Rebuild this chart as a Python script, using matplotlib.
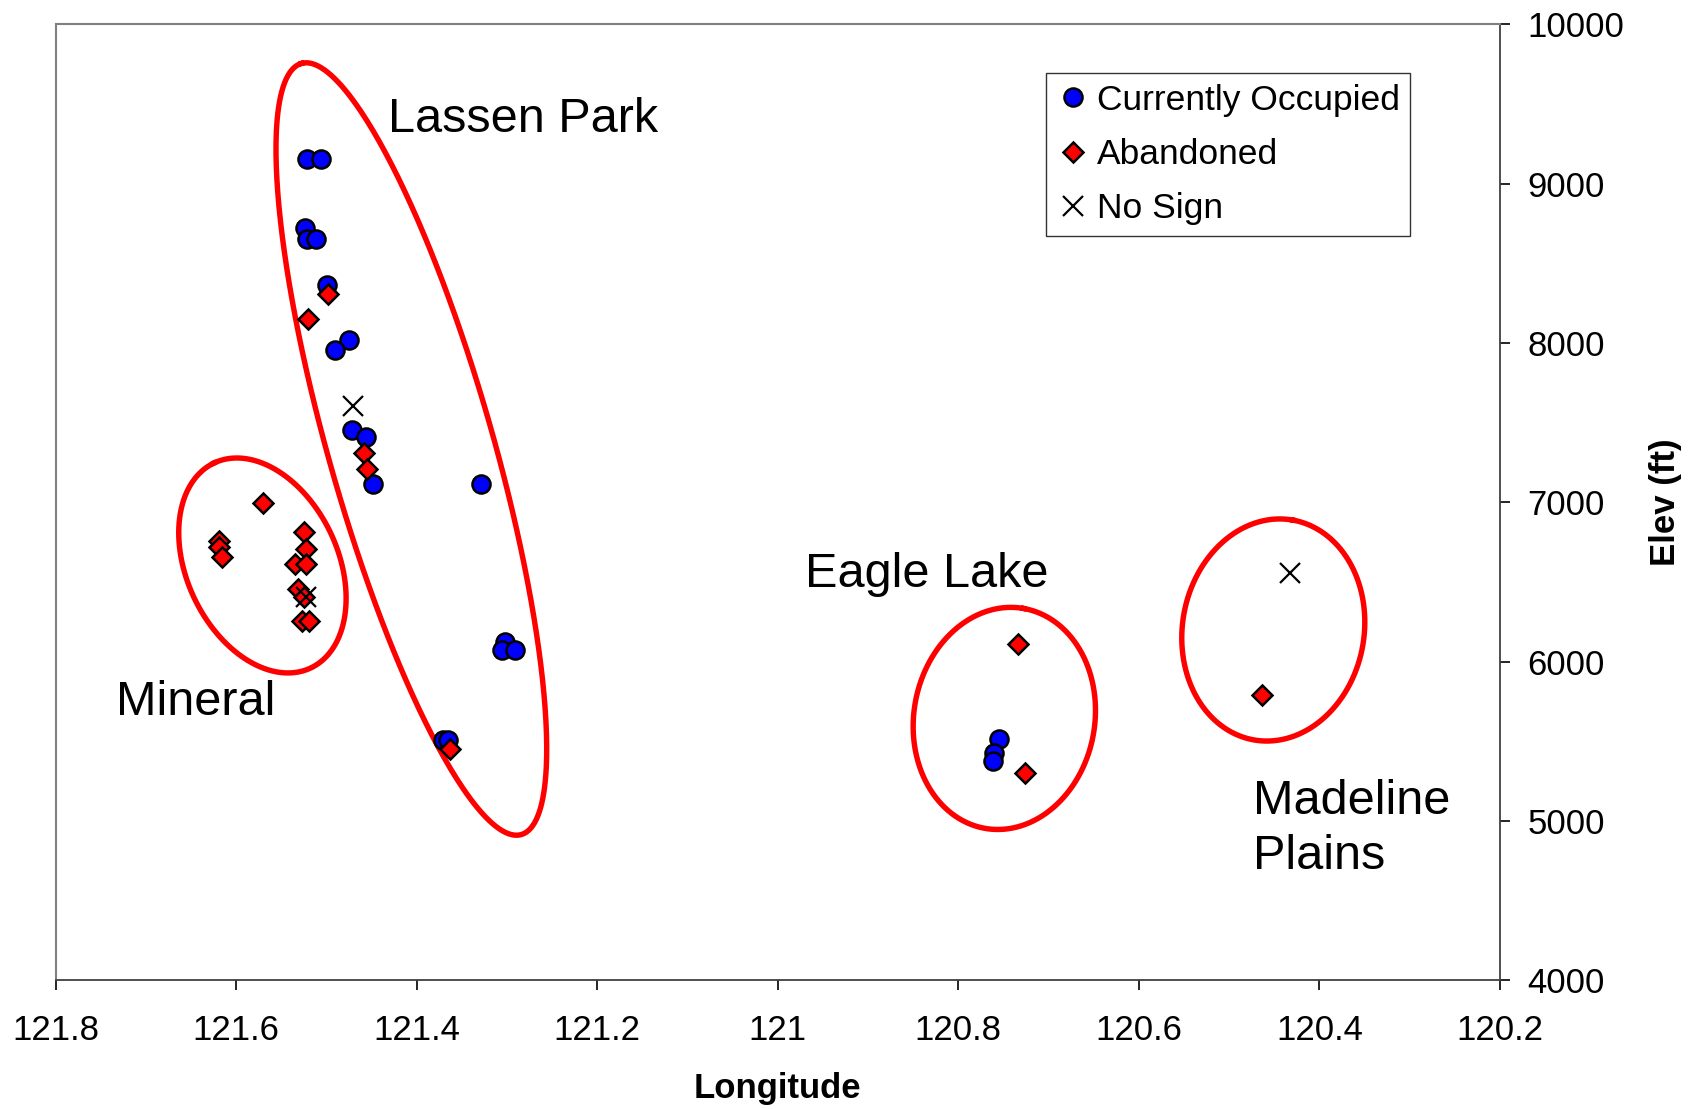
import numpy as np
import matplotlib
matplotlib.use("Agg")
import matplotlib.pyplot as plt

plt.rcParams['font.family'] = ['Liberation Sans', 'DejaVu Sans']

# Currently occupied sites (longitude W, elevation ft)
occ_lon = [121.522, 121.506, 121.524, 121.522, 121.512, 121.499, 121.475, 121.491,
           121.472, 121.456, 121.448, 121.329, 121.302, 121.306, 121.291,
           121.371, 121.365, 120.755, 120.760, 120.761]
occ_elev = [9153, 9153, 8722, 8655, 8655, 8366, 8017, 7958,
            7456, 7410, 7117, 7117, 6123, 6071, 6071,
            5510, 5510, 5512, 5427, 5377]

# Abandoned sites
aban_lon = [121.498, 121.520, 121.459, 121.455, 121.363,
            121.570, 121.619, 121.619, 121.616, 121.525, 121.523, 121.535, 121.523,
            121.532, 121.525, 121.527, 121.519,
            120.734, 120.726, 120.463]
aban_elev = [8305, 8150, 7310, 7207, 5450,
             6998, 6757, 6720, 6657, 6814, 6710, 6611, 6611,
             6454, 6404, 6255, 6255,
             6113, 5304, 5793]

# No sign
none_lon = [121.471, 121.523, 120.433]
none_elev = [7604, 6404, 6558]

# Region outlines: centre, semi-axis vectors (dlon, delev)
regions = ["Lassen Park", "Mineral", "Eagle Lake", "Madeline\nPlains"]
ell_centre = [(121.406, 7335), (121.571, 6604), (120.749, 5644), (120.451, 6199)]
ell_major = [(0.1218, 2420), (0.0537, 643), (-0.0215, 690), (-0.0215, 690)]
ell_minor = [(-0.0875, 142), (-0.0756, 204), (-0.0987, -99), (-0.0991, -99)]
label_pos = [(121.432, 9400), (121.733, 5745), (120.970, 6550), (120.473, 4950)]

fig = plt.figure(figsize=(16.89, 11.09), dpi=100)
ax = fig.add_axes([0.033, 0.116, 0.855, 0.862])

t = np.linspace(0, 2 * np.pi, 400)
for c, u, v in zip(ell_centre, ell_major, ell_minor):
    xs = c[0] + np.cos(t) * u[0] + np.sin(t) * v[0]
    ys = c[1] + np.cos(t) * u[1] + np.sin(t) * v[1]
    ax.plot(xs, ys, color='#ff0000', lw=3.9, zorder=1)

ax.plot(occ_lon, occ_elev, 'o', ms=13, mfc='#0000ff', mec='black', mew=1.8,
        label='Currently Occupied', zorder=3)
ax.plot(aban_lon, aban_elev, 'D', ms=10, mfc='#ff0000', mec='black', mew=1.8,
        label='Abandoned', zorder=4)
ax.plot(none_lon, none_elev, 'x', ms=14, color='black', mew=1.6,
        label='No Sign', zorder=5)

for name, (x, y) in zip(regions, label_pos):
    ax.text(x, y, name, fontsize=35, ha='left', va='center', linespacing=1.3)

ax.set_xlim(121.8, 120.2)
ax.set_ylim(4000, 10000)
ax.set_xticks(np.arange(120.2, 121.81, 0.2))
ax.set_xticklabels(['120.2', '120.4', '120.6', '120.8', '121',
                    '121.2', '121.4', '121.6', '121.8'])
ax.set_yticks(range(4000, 10001, 1000))

ax.yaxis.tick_right()
ax.yaxis.set_label_position('right')
ax.tick_params(axis='x', direction='out', length=7, width=1.2, labelsize=25, pad=17)
ax.tick_params(axis='y', direction='out', length=7, width=1.2, labelsize=25, pad=13)

ax.set_xlabel('Longitude', fontsize=25, fontweight='bold', labelpad=18)
ax.set_ylabel('Elev (ft)', fontsize=25, fontweight='bold', labelpad=18)

for s in ['left', 'top']:
    ax.spines[s].set_color('#808080')
    ax.spines[s].set_linewidth(1.5)
for s in ['right', 'bottom']:
    ax.spines[s].set_color('#404040')
    ax.spines[s].set_linewidth(1.3)

leg = ax.legend(loc='upper right', bbox_to_anchor=(0.938, 0.949), fontsize=25.5,
                frameon=True, fancybox=False, borderaxespad=0, handletextpad=0.22,
                handlelength=0.9, labelspacing=0.6, borderpad=0.3)
leg.get_frame().set_edgecolor('black')
leg.get_frame().set_linewidth(1.0)

fig.savefig('out.png', dpi=100)
